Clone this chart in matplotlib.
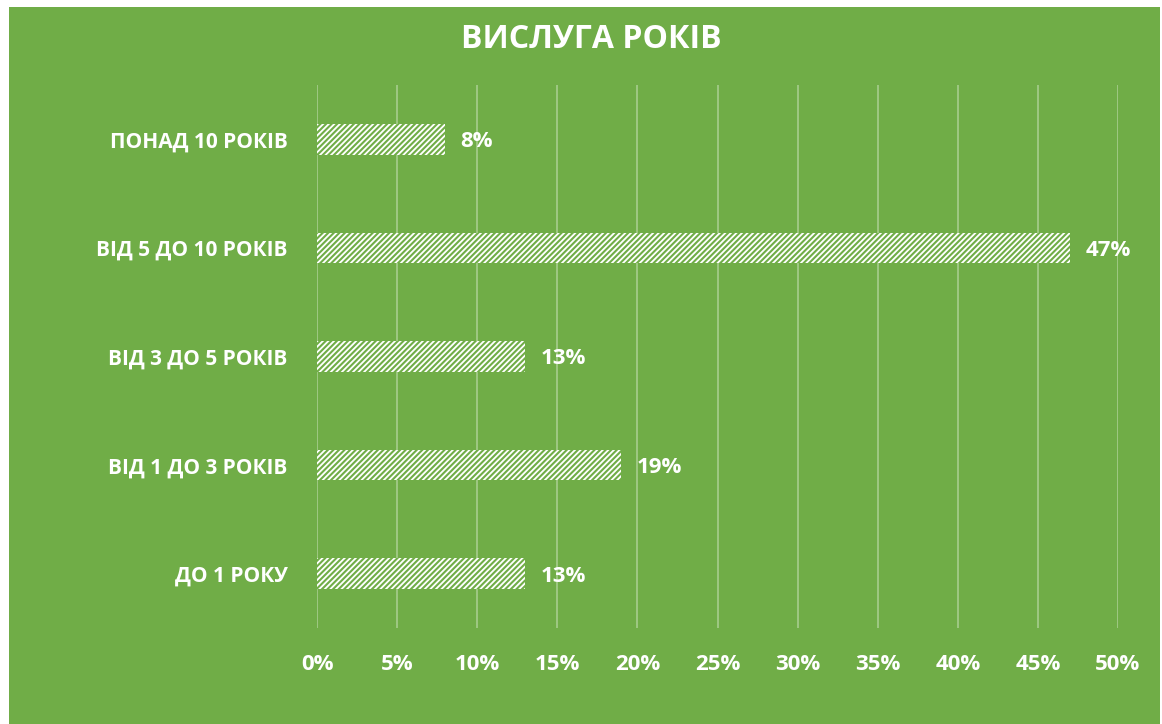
import matplotlib.pyplot as plt
from matplotlib.patches import Rectangle
from matplotlib import ticker

categories = ["ДО 1 РОКУ", "ВІД 1 ДО 3 РОКІВ", "ВІД 3 ДО 5 РОКІВ",
              "ВІД 5 ДО 10 РОКІВ", "ПОНАД 10 РОКІВ"]
values = [13, 19, 13, 47, 8]
title = "ВИСЛУГА РОКІВ"

green = "#70AD47"

plt.rcParams['font.family'] = ['Open Sans', 'DejaVu Sans']
plt.rcParams['hatch.linewidth'] = 1.5

fig = plt.figure(figsize=(11.62, 7.24), dpi=100)
fig.patch.set_facecolor("white")
# chart area background (white margin at left/top like the original)
bg = Rectangle((9 / 1162, 0), 1151 / 1162, 717 / 724,
               transform=fig.transFigure, facecolor=green,
               edgecolor="none", zorder=-10)
fig.add_artist(bg)

ax = fig.add_axes([317 / 1162, 1 - 628 / 724, (1118 - 317) / 1162, (628 - 85) / 724])
ax.set_facecolor("none")
ax.set_zorder(1)

ypos = range(len(categories))
bars = ax.barh(ypos, values, height=0.28, color="white", edgecolor=green,
               hatch="//////", linewidth=0, zorder=3)

for y, v in zip(ypos, values):
    ax.annotate("%d%%" % v, (v, y), xytext=(11, 0), textcoords="offset points",
                ha="left", va="center_baseline", color="white", fontsize=16,
                fontweight="bold")

ax.set_xlim(0, 50)
ax.set_ylim(-0.5, 4.5)
ax.xaxis.set_major_locator(ticker.MultipleLocator(5))
ax.xaxis.set_major_formatter(ticker.FormatStrFormatter("%d%%"))
ax.set_yticks(list(ypos))
ax.set_yticklabels(categories)

ax.grid(True, axis="x", color="white", alpha=0.35, linewidth=1.3, zorder=0)
ax.set_axisbelow(True)
for s in ax.spines.values():
    s.set_visible(False)
ax.tick_params(axis="both", length=0, colors="white")
ax.tick_params(axis="x", labelsize=16, pad=19)
ax.tick_params(axis="y", labelsize=15, pad=21)
for lab in ax.get_xticklabels() + ax.get_yticklabels():
    lab.set_fontweight("bold")

fig.text(591 / 1162, 1 - 40 / 724, title, ha="center", va="center",
         color="white", fontsize=23, fontweight="bold")

fig.savefig("out.png", dpi=100)
